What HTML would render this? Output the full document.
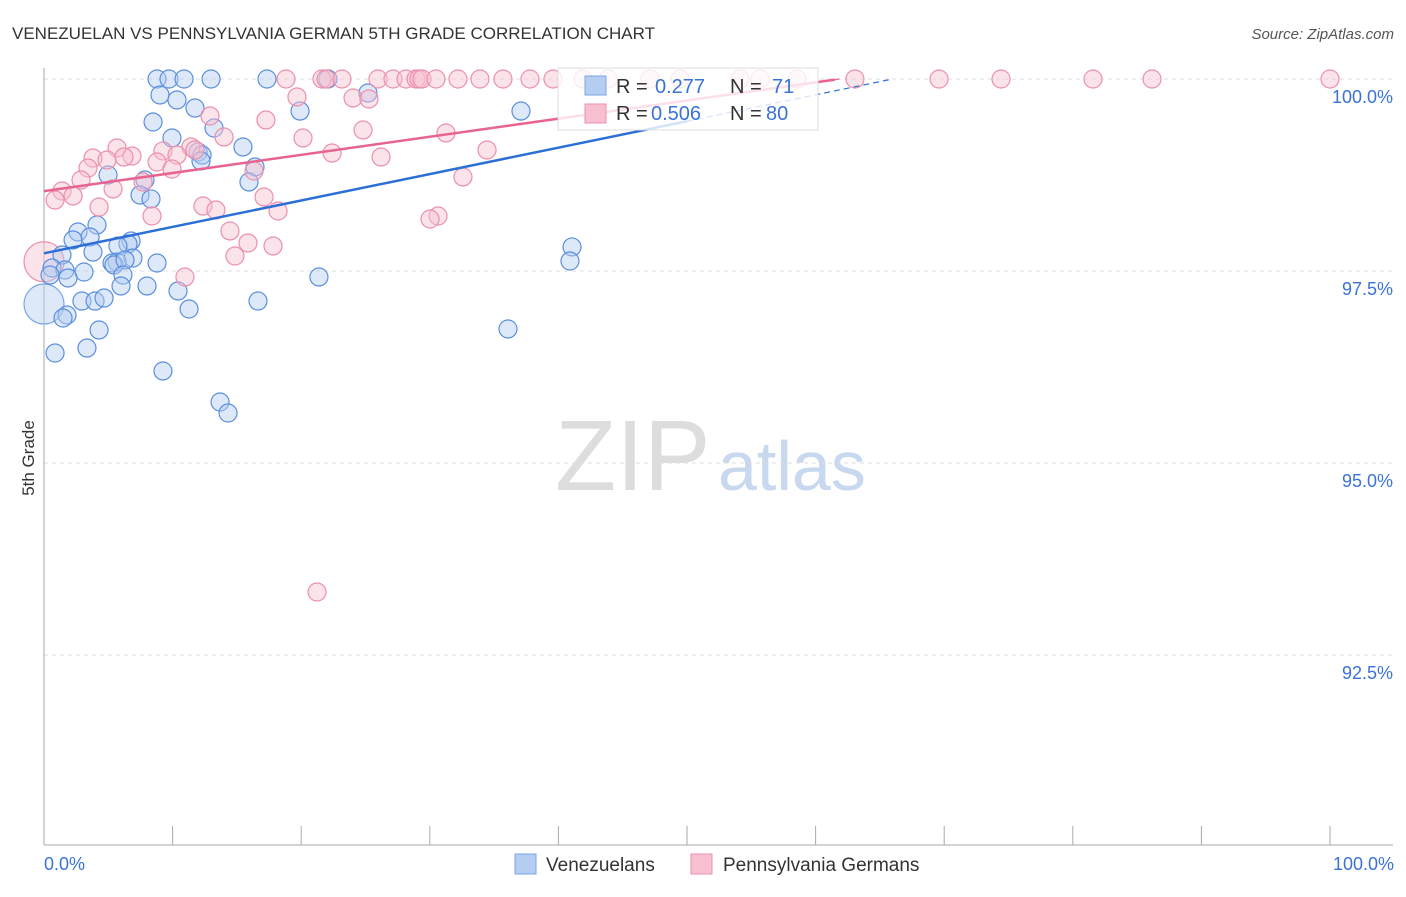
<!DOCTYPE html>
<html><head><meta charset="utf-8"><style>
body{margin:0;background:#fff;font-family:"Liberation Sans",sans-serif;}
svg text{font-family:"Liberation Sans",sans-serif;}
</style></head><body>
<svg id="c" width="1406" height="892">
<text x="12" y="39" font-size="17" fill="#333">VENEZUELAN VS PENNSYLVANIA GERMAN 5TH GRADE CORRELATION CHART</text>
<text x="1394" y="39" font-size="15" fill="#555" text-anchor="end" font-style="italic">Source: ZipAtlas.com</text>
<text x="34" y="458" font-size="17" fill="#333" text-anchor="middle" transform="rotate(-90 34 458)">5th Grade</text>
<text x="555" y="490" font-size="100" fill="#ddd" font-family="Liberation Serif">ZIP</text>
<text x="718" y="490" font-size="70" fill="#c8d8ee">atlas</text>
<g id="grid"></g><g id="pts"></g><g id="lines"></g>
<g>
<rect x="558" y="68" width="260" height="62" fill="rgba(255,255,255,0.8)" stroke="#ddd"/>
<rect x="585" y="76" width="21" height="19" fill="#b4cdf0" stroke="#7aa6e6"/>
<text x="616" y="93" font-size="20" fill="#333">R = </text><text x="655" y="93" font-size="20" fill="#3a73d6">0.277</text>
<text x="730" y="93" font-size="20" fill="#333">N = </text><text x="772" y="93" font-size="20" fill="#3a73d6">71</text>
<rect x="585" y="104" width="21" height="19" fill="#f7c0d0" stroke="#ec8fab"/>
<text x="616" y="120" font-size="20" fill="#333">R = </text><text x="651" y="120" font-size="20" fill="#3a73d6">0.506</text>
<text x="730" y="120" font-size="20" fill="#333">N = </text><text x="766" y="120" font-size="20" fill="#3a73d6">80</text>
</g>
<g>
<rect x="515" y="854" width="21" height="20" fill="#b4cdf0" stroke="#7aa6e6"/>
<text x="546" y="871" font-size="19" fill="#333">Venezuelans</text>
<rect x="691" y="854" width="21" height="20" fill="#f7c0d0" stroke="#ec8fab"/>
<text x="723" y="871" font-size="19" fill="#333">Pennsylvania Germans</text>
</g>
<text x="44" y="870" font-size="18" fill="#3a73d6">0.0%</text>
<text x="1394" y="870" font-size="18" fill="#3a73d6" text-anchor="end">100.0%</text>
</svg>
<script>
const yTicks=[100,97.5,95,92.5];
const yTickLabels=["100.0%","97.5%","95.0%","92.5%"];
const xTicks=[0,10,20,30,40,50,60,70,80,90,100];
const bluePx=[[157,79],[169,79],[184,79],[211,79],[267,79],[328,79],[160,95],[177,100],[195,108],[153,122],[214,128],[172,138],[243,147],[198,152],[202,155],[201,161],[108,175],[255,167],[249,182],[145,180],[140,195],[151,199],[97,225],[78,232],[90,237],[73,240],[62,255],[93,252],[131,241],[128,244],[118,246],[133,258],[117,262],[112,263],[114,265],[125,260],[157,263],[52,268],[65,270],[84,272],[50,275],[68,278],[123,275],[147,286],[121,286],[178,291],[82,301],[95,301],[104,298],[189,309],[258,301],[319,277],[67,315],[63,318],[99,330],[87,348],[55,353],[163,371],[220,402],[228,413],[521,111],[368,93],[300,111],[572,247],[570,261],[508,329]];
const pinkPx=[[286,79],[322,79],[326,79],[342,79],[378,79],[393,79],[406,79],[416,79],[419,79],[422,79],[436,79],[458,79],[480,79],[503,79],[530,79],[553,79],[583,79],[608,79],[650,79],[680,79],[740,79],[760,79],[797,79],[855,79],[939,79],[1001,79],[1093,79],[1152,79],[1330,79],[297,97],[353,98],[369,99],[210,116],[266,120],[363,130],[303,138],[224,137],[446,133],[117,148],[191,147],[195,150],[163,151],[177,155],[93,158],[107,160],[132,156],[124,157],[157,162],[172,169],[381,157],[332,153],[487,150],[88,168],[81,180],[143,182],[113,189],[62,191],[73,196],[55,200],[99,207],[203,206],[216,210],[152,216],[278,211],[264,197],[463,177],[438,216],[430,219],[230,231],[248,243],[273,246],[235,256],[185,277],[317,592],[254,171]];
// data values (x %, 5th grade %)
const blueX=bluePx.map(p=>+((p[0]-44)/12.86).toFixed(2));
const blueY=bluePx.map(p=>+(100-(p[1]-79)/76.8).toFixed(3));
const pinkX=pinkPx.map(p=>+((p[0]-44)/12.86).toFixed(2));
const pinkY=pinkPx.map(p=>+(100-(p[1]-79)/76.8).toFixed(3));
const bigX=[0,0],bigY=[97.07,97.62];
const blueTrend=[97.73,0.0344]; // intercept, slope per %
const pinkTrend=[98.54,0.0236];
const sx=v=>44+v*12.86, sy=v=>79+(100-v)*76.8;
const NS="http://www.w3.org/2000/svg";
function mk(t,a,parent){const e=document.createElementNS(NS,t);for(const k in a)e.setAttribute(k,a[k]);parent.appendChild(e);return e;}
const grid=document.getElementById('grid'),pts=document.getElementById('pts'),lines=document.getElementById('lines');
yTicks.forEach((v,i)=>{
 const l=mk('line',{x1:44,x2:1393,y1:sy(v),y2:sy(v),stroke:'#ddd','stroke-dasharray':'4 4'},grid);
 
 
 const t=mk('text',{x:1393,y:sy(v)+24,'font-size':18,fill:'#3a73d6','text-anchor':'end'},grid);t.textContent=yTickLabels[i];
 
 
});
const ax=mk('line',{x1:44,x2:44,y1:68,y2:845,stroke:'#aaa'},grid);


const bx=mk('line',{x1:44,x2:1393,y1:845,y2:845,stroke:'#aaa'},grid);


xTicks.forEach(v=>{const t=mk('line',{x1:sx(v),x2:sx(v),y1:826,y2:845,stroke:'#aaa'},grid);
 
 });
function dot(x,y,r,c,s,name){const e=mk('circle',{cx:sx(x),cy:sy(y),r:r,fill:c,'fill-opacity':0.45,stroke:s,'stroke-width':1.2},pts);
 
 }
dot(bigX[0],bigY[0],20,'#b4cdf0','#7aa6e6','venezuelan-point');
dot(bigX[1],bigY[1],20,'#f7c0d0','#ec8fab','pa-german-point');
blueX.forEach((x,i)=>dot(x,blueY[i],9,'#b4cdf0','#5b8fe0','venezuelan-point'));
pinkX.forEach((x,i)=>dot(x,pinkY[i],9,'#f7c0d0','#ec8fab','pa-german-point'));
function trend(tr,c,xs,xe,name){
 const xm=(100-tr[0])/tr[1];
 const a=mk('line',{x1:sx(0),y1:sy(tr[0]),x2:sx(xs),y2:sy(tr[0]+tr[1]*xs),stroke:c,'stroke-width':2.5},lines);
 
 
 const b=mk('line',{x1:sx(xs),y1:sy(tr[0]+tr[1]*xs),x2:sx(xm),y2:sy(100),stroke:c,'stroke-width':1.2,'stroke-dasharray':'6 4'},lines);
 
 
}
trend(blueTrend,'#2b6fd6',50,0,'venezuelan-trendline');
trend(pinkTrend,'#e8648f',61.5,0,'pa-german-trendline');
</script>
</body></html>
